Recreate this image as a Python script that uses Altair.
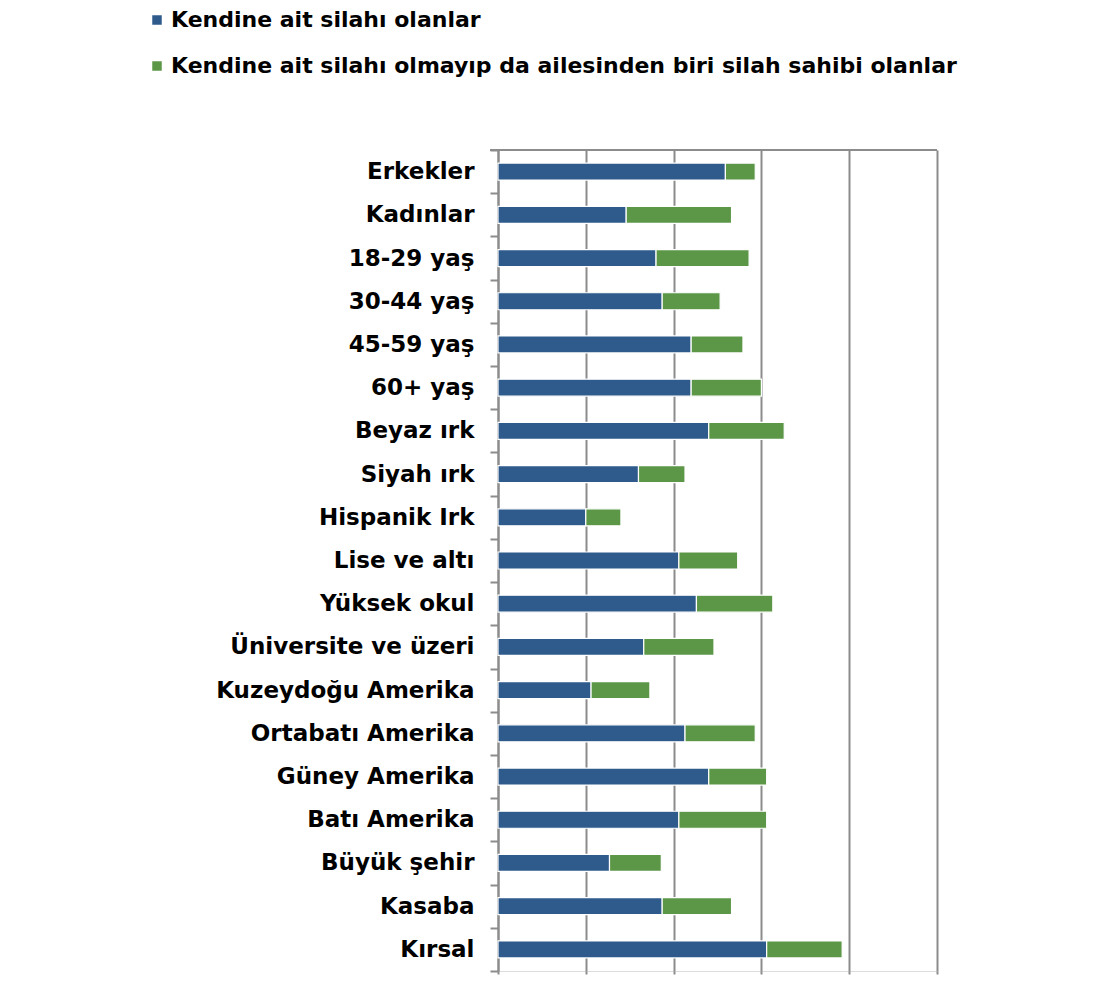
import altair as alt
import pandas as pd

categories = ["Erkekler", "Kadınlar", "18-29 yaş", "30-44 yaş", "45-59 yaş", "60+ yaş",
              "Beyaz ırk", "Siyah ırk", "Hispanik Irk", "Lise ve altı", "Yüksek okul",
              "Üniversite ve üzeri", "Kuzeydoğu Amerika", "Ortabatı Amerika", "Güney Amerika",
              "Batı Amerika", "Büyük şehir", "Kasaba", "Kırsal"]
own = [25.9, 14.6, 18.0, 18.7, 22.0, 22.0, 24.0, 16.0, 10.0, 20.6, 22.6, 16.6,
       10.6, 21.3, 24.0, 20.6, 12.7, 18.7, 30.6]
family = [3.4, 12.0, 10.6, 6.6, 5.9, 8.0, 8.6, 5.3, 4.0, 6.7, 8.7, 8.0,
          6.7, 8.0, 6.6, 10.0, 5.9, 7.9, 8.6]
series = ["Kendine ait silahı olanlar",
          "Kendine ait silahı olmayıp da ailesinden biri silah sahibi olanlar"]
colors = ["#2E5A8C", "#5C9748"]

rows = []
for c, a, b in zip(categories, own, family):
    rows.append({"cat": c, "series": series[0], "value": a, "ord": 0})
    rows.append({"cat": c, "series": series[1], "value": b, "ord": 1})
df = pd.DataFrame(rows)

FONT = "DejaVu Sans"
GRID = "#8C8C8C"

bars = alt.Chart(df).mark_bar(stroke="white", strokeWidth=1.2, size=17).encode(
    y=alt.Y("cat:N", sort=categories, title=None,
            scale=alt.Scale(paddingInner=0, paddingOuter=0),
            axis=alt.Axis(tickBand="extent", tickSize=8, tickColor=GRID, tickWidth=2,
                          domainColor=GRID, domainWidth=2, labelPadding=16,
                          labelFont=FONT, labelFontSize=23, labelFontWeight="bold",
                          labelColor="black", labelLimit=600, grid=False)),
    x=alt.X("value:Q", stack="zero", title=None,
            scale=alt.Scale(domain=[0, 50], nice=False),
            axis=alt.Axis(values=[0, 10, 20, 30, 40, 50], labels=False, domain=False,
                          tickSize=3, tickColor=GRID, tickWidth=2,
                          grid=True, gridColor=GRID, gridWidth=2)),
    color=alt.Color("series:N", sort=series,
                    scale=alt.Scale(domain=series, range=colors),
                    legend=alt.Legend(title=None, orient="none", legendX=-352, legendY=-141,
                                      direction="vertical", symbolType="square",
                                      symbolSize=90, symbolStrokeWidth=0,
                                      labelFont=FONT, labelFontSize=22,
                                      labelFontWeight="bold", labelColor="black",
                                      labelLimit=900, rowPadding=24, labelOffset=3)),
    order=alt.Order("ord:Q"),
)

top_line = alt.Chart(df).mark_rule(color=GRID, strokeWidth=2).encode(
    x=alt.value(-8), x2=alt.value(439), y=alt.value(0)
)

chart = alt.layer(bars, top_line).properties(
    width=439, height=821,
    autosize=alt.AutoSizeParams(type="none"),
    padding={"left": 490, "top": 142, "right": 150, "bottom": 10},
).configure_view(stroke=None).configure(background="white")

chart.save("out.html", embed_options={"renderer": "svg", "actions": False})
